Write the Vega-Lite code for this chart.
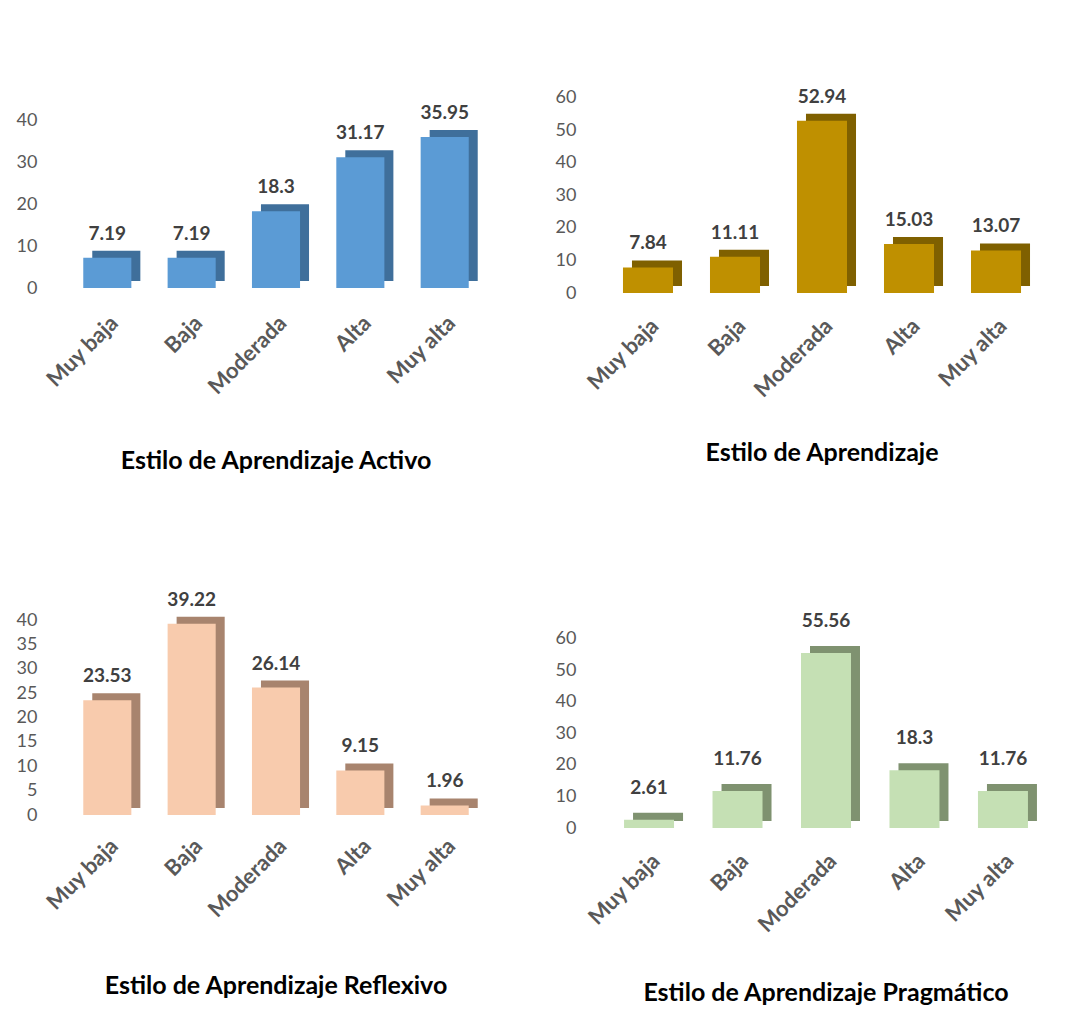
{
  "$schema": "https://vega.github.io/schema/vega-lite/v6.json",
  "background": "white",
  "padding": {"left": 16, "top": 13, "right": 5, "bottom": 5},
  "config": {
    "view": {"stroke": null},
    "font": "Lato",
    "axis": {"domain": false, "ticks": false, "grid": false, "title": null, "labelFont": "Lato", "labelColor": "#595959"},
    "axisX": {"labelAngle": -45, "labelFontSize": 22, "labelFontWeight": "bold", "labelPadding": 24},
    "axisY": {"labelFontSize": 18, "labelPadding": 10},
    "title": {"orient": "bottom", "fontSize": 25, "fontWeight": "bold", "color": "#000000", "font": "Lato", "anchor": "middle"},
    "text": {"font": "Lato", "fontSize": 19, "fontWeight": "bold", "color": "#404040", "baseline": "bottom"}
  },
  "hconcat": [
    {
      "vconcat": [
        {
          "width": 458, "height": 275,
          "title": {"text": "Estilo de Aprendizaje Activo", "offset": 51},
          "data": {"values": [
            {"nivel": "Muy baja", "valor": 7.19},
            {"nivel": "Baja", "valor": 7.19},
            {"nivel": "Moderada", "valor": 18.3},
            {"nivel": "Alta", "valor": 31.17},
            {"nivel": "Muy alta", "valor": 35.95}
          ]},
          "encoding": {
            "x": {"field": "nivel", "type": "nominal", "sort": null, "scale": {"paddingInner": 0.43, "paddingOuter": 0.43}},
            "y": {"field": "valor", "type": "quantitative", "scale": {"domain": [0, 65.5], "nice": false}, "axis": {"values": [0, 10, 20, 30, 40]}}
          },
          "layer": [
            {"mark": {"type": "bar", "color": "#3F6F9B", "xOffset": 9, "yOffset": -7, "y2Offset": -7}},
            {"mark": {"type": "bar", "color": "#5B9BD5"}},
            {"mark": {"type": "text", "dy": -14}, "encoding": {"text": {"field": "valor", "type": "quantitative"}}}
          ]
        },
        {
          "width": 458, "height": 273,
          "title": {"text": "Estilo de Aprendizaje Reflexivo", "offset": 53},
          "data": {"values": [
            {"nivel": "Muy baja", "valor": 23.53},
            {"nivel": "Baja", "valor": 39.22},
            {"nivel": "Moderada", "valor": 26.14},
            {"nivel": "Alta", "valor": 9.15},
            {"nivel": "Muy alta", "valor": 1.96}
          ]},
          "encoding": {
            "x": {"field": "nivel", "type": "nominal", "sort": null, "scale": {"paddingInner": 0.43, "paddingOuter": 0.43}, "axis": {"labelPadding": 20}},
            "y": {"field": "valor", "type": "quantitative", "scale": {"domain": [0, 56], "nice": false}, "axis": {"values": [0, 5, 10, 15, 20, 25, 30, 35, 40]}}
          },
          "layer": [
            {"mark": {"type": "bar", "color": "#A8846E", "xOffset": 9, "yOffset": -7, "y2Offset": -7}},
            {"mark": {"type": "bar", "color": "#F8CBAD"}},
            {"mark": {"type": "text", "dy": -14}, "encoding": {"text": {"field": "valor", "type": "quantitative"}}}
          ]
        }
      ],
      "spacing": 68
    },
    {
      "vconcat": [
        {
          "width": 472, "height": 280,
          "title": {"text": "Estilo de Aprendizaje", "offset": 40},
          "data": {"values": [
            {"nivel": "Muy baja", "valor": 7.84},
            {"nivel": "Baja", "valor": 11.11},
            {"nivel": "Moderada", "valor": 52.94},
            {"nivel": "Alta", "valor": 15.03},
            {"nivel": "Muy alta", "valor": 13.07}
          ]},
          "encoding": {
            "x": {"field": "nivel", "type": "nominal", "sort": null, "scale": {"paddingInner": 0.425, "paddingOuter": 0.425}, "axis": {"labelPadding": 22}},
            "y": {"field": "valor", "type": "quantitative", "scale": {"domain": [0, 86], "nice": false}, "axis": {"values": [0, 10, 20, 30, 40, 50, 60]}}
          },
          "layer": [
            {"mark": {"type": "bar", "color": "#7F6000", "xOffset": 9, "yOffset": -7, "y2Offset": -7}},
            {"mark": {"type": "bar", "color": "#BF9000"}},
            {"mark": {"type": "text", "dy": -14}, "encoding": {"text": {"field": "valor", "type": "quantitative"}}}
          ]
        },
        {
          "width": 480, "height": 288,
          "title": {"text": "Estilo de Aprendizaje Pragmático", "offset": 45},
          "data": {"values": [
            {"nivel": "Muy baja", "valor": 2.61},
            {"nivel": "Baja", "valor": 11.76},
            {"nivel": "Moderada", "valor": 55.56},
            {"nivel": "Alta", "valor": 18.3},
            {"nivel": "Muy alta", "valor": 11.76}
          ]},
          "encoding": {
            "x": {"field": "nivel", "type": "nominal", "sort": null, "scale": {"paddingInner": 0.435, "paddingOuter": 0.43}, "axis": {"labelPadding": 22}},
            "y": {"field": "valor", "type": "quantitative", "scale": {"domain": [0, 91.4], "nice": false}, "axis": {"values": [0, 10, 20, 30, 40, 50, 60]}}
          },
          "layer": [
            {"mark": {"type": "bar", "color": "#7F9270", "xOffset": 9, "yOffset": -7, "y2Offset": -7}},
            {"mark": {"type": "bar", "color": "#C5E0B4"}},
            {"mark": {"type": "text", "dy": -22}, "encoding": {"text": {"field": "valor", "type": "quantitative"}}}
          ]
        }
      ],
      "spacing": 74
    }
  ],
  "spacing": 50
}
